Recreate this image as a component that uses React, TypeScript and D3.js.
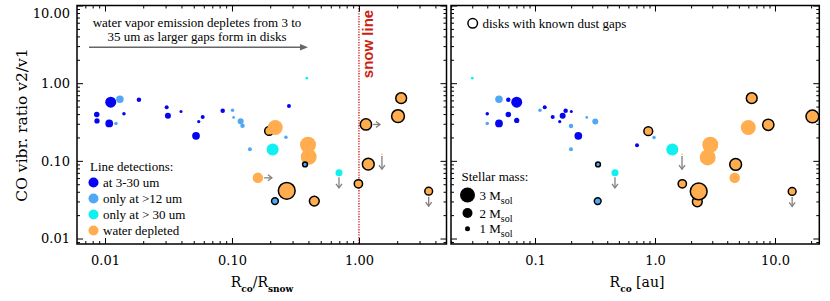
import React, { useRef, useEffect } from "react";
import * as d3 from "d3";

// point rows: [x, y, stellar mass, detection type, known dust gap (1/0), upper-limit arrow]
type Pt = [number, number, number, string, number, string];

// left panel: x = R_co / R_snow
const leftPoints: Pt[] = [
  [0.0131, 0.622, 1.5, "l", 0, ""],
  [0.0111, 0.569, 2.2, "b", 0, ""],
  [0.0185, 0.61, 0.9, "b", 0, ""],
  [0.00861, 0.396, 1.1, "b", 0, ""],
  [0.00865, 0.327, 1.05, "b", 0, ""],
  [0.0108, 0.303, 1.55, "b", 0, ""],
  [0.0122, 0.303, 0.7, "l", 0, ""],
  [0.0141, 0.403, 0.7, "b", 0, ""],
  [0.0306, 0.491, 0.8, "b", 0, ""],
  [0.0313, 0.38, 1.2, "b", 0, ""],
  [0.0397, 0.432, 0.6, "b", 0, ""],
  [0.0521, 0.21, 1.55, "b", 0, ""],
  [0.0547, 0.321, 0.65, "b", 0, ""],
  [0.0588, 0.368, 0.8, "b", 0, ""],
  [0.0845, 0.44, 0.9, "b", 0, ""],
  [0.101, 0.449, 0.7, "l", 0, ""],
  [0.103, 0.362, 0.55, "l", 0, ""],
  [0.117, 0.324, 1.2, "l", 0, ""],
  [0.121, 0.282, 0.9, "l", 0, ""],
  [0.1385, 0.1415, 0.8, "l", 0, ""],
  [0.388, 1.16, 0.55, "c", 0, ""],
  [0.281, 0.51, 0.8, "b", 0, ""],
  [0.196, 0.243, 2.0, "o", 1, ""],
  [0.219, 0.269, 3.0, "o", 0, ""],
  [0.266, 0.202, 0.7, "l", 0, ""],
  [0.209, 0.14, 2.4, "c", 0, ""],
  [0.397, 0.161, 3.2, "o", 0, ""],
  [0.402, 0.1125, 3.2, "o", 0, ""],
  [0.376, 0.0899, 1.2, "l", 1, ""],
  [0.16, 0.0604, 2.1, "o", 0, "right"],
  [0.696, 0.0701, 1.4, "c", 0, "down"],
  [0.99, 0.0506, 1.9, "o", 1, ""],
  [1.184, 0.0907, 2.6, "o", 1, ""],
  [1.517, 0.122, 0.3, "o", 0, "down"],
  [1.135, 0.294, 2.5, "o", 1, "right"],
  [2.03, 0.376, 2.8, "o", 1, ""],
  [2.15, 0.641, 2.4, "o", 1, ""],
  [0.218, 0.0303, 1.6, "l", 1, ""],
  [0.27, 0.0411, 3.6, "o", 1, ""],
  [0.445, 0.0303, 2.2, "o", 1, ""],
  [3.54, 0.0407, 1.8, "o", 1, "down"],
];

// right panel: x = R_co in au
const rightPoints: Pt[] = [
  [0.03, 1.16, 0.55, "c", 0, ""],
  [0.0501, 0.622, 1.5, "l", 0, ""],
  [0.0599, 0.61, 0.9, "b", 0, ""],
  [0.0704, 0.569, 2.2, "b", 0, ""],
  [0.04, 0.403, 0.7, "b", 0, ""],
  [0.04, 0.303, 0.7, "l", 0, ""],
  [0.0501, 0.303, 1.55, "b", 0, ""],
  [0.0599, 0.396, 1.1, "b", 0, ""],
  [0.0704, 0.331, 1.05, "b", 0, ""],
  [0.11, 0.449, 0.7, "l", 0, ""],
  [0.1205, 0.491, 0.8, "b", 0, ""],
  [0.1404, 0.368, 0.8, "b", 0, ""],
  [0.1607, 0.321, 0.65, "b", 0, ""],
  [0.17, 0.38, 1.2, "b", 0, ""],
  [0.18, 0.44, 0.9, "b", 0, ""],
  [0.2007, 0.432, 0.6, "b", 0, ""],
  [0.1995, 0.28, 0.9, "l", 0, ""],
  [0.2296, 0.21, 1.55, "b", 0, ""],
  [0.27, 0.362, 0.55, "l", 0, ""],
  [0.318, 0.321, 1.2, "l", 0, ""],
  [0.1995, 0.1415, 0.8, "l", 0, ""],
  [0.335, 0.0899, 1.2, "l", 1, ""],
  [0.464, 0.0701, 1.4, "c", 0, "down"],
  [0.879, 0.241, 2.0, "o", 1, ""],
  [0.708, 0.159, 0.8, "b", 0, ""],
  [0.981, 0.2, 0.7, "l", 0, ""],
  [1.394, 0.14, 2.4, "c", 0, ""],
  [1.679, 0.122, 0.3, "o", 0, "down"],
  [2.89, 0.161, 3.2, "o", 0, ""],
  [2.749, 0.1106, 3.2, "o", 0, ""],
  [1.689, 0.0506, 1.9, "o", 1, ""],
  [2.252, 0.0297, 2.2, "o", 1, ""],
  [2.313, 0.0404, 3.6, "o", 1, ""],
  [6.4, 0.641, 2.4, "o", 1, ""],
  [5.99, 0.269, 3.0, "o", 0, ""],
  [8.79, 0.291, 2.5, "o", 1, ""],
  [20.5, 0.373, 2.8, "o", 1, ""],
  [4.7, 0.0899, 2.6, "o", 1, ""],
  [4.615, 0.0604, 2.1, "o", 0, ""],
  [13.9, 0.0404, 1.8, "o", 1, "down"],
  [0.333, 0.0303, 1.6, "l", 1, ""],
];

const typeColors: Record<string, string> = {
  b: "#0505f0",
  l: "#50a8f5",
  c: "#10f0f0",
  o: "#ffad4f",
};
const detectionLegend = [
  ["b", "at 3-30 um"],
  ["l", "only at >12 um"],
  ["c", "only at > 30 um"],
  ["o", "water depleted"],
];
const massLegend = [3, 2, 1];

const leftTickLabels = ["0.01", "0.10", "1.00"];
const rightTickLabels = ["0.1", "1.0", "10.0"];
const yTickLabels = ["0.01", "0.10", "1.00", "10.00"];

const annotation = ["water vapor emission depletes from 3 to", "35 um as larger gaps form in disks"];

const SERIF = "'DejaVu Serif', serif";
const TIMES = "'Liberation Serif', 'Times New Roman', serif";

const majors = (dom: number[]) => {
  const out: number[] = [];
  for (let p = Math.floor(Math.log10(dom[0])); p <= Math.ceil(Math.log10(dom[1])); p++) {
    const v = Math.pow(10, p);
    if (v >= dom[0] && v <= dom[1]) out.push(v);
  }
  return out;
};
const minors = (dom: number[]) => {
  const out: number[] = [];
  for (let p = Math.floor(Math.log10(dom[0])); p <= Math.ceil(Math.log10(dom[1])); p++) {
    for (let k = 2; k <= 9; k++) {
      const v = k * Math.pow(10, p);
      if (v >= dom[0] && v <= dom[1]) out.push(v);
    }
  }
  return out;
};

const App = () => {
  const ref = useRef<SVGSVGElement>(null);

  useEffect(() => {
    const svg = d3.select(ref.current);
    svg.selectAll("*").remove();

    const yDom = [0.0085, 10];
    const y = d3.scaleLog().domain(yDom).range([244, 5.5]);
    const r = d3.scaleLinear().domain([0, 3]).range([0, 7.5]);

    const panels = [
      { x0: 77, x1: 446.5, dom: [0.00602, 4.89], labels: leftTickLabels, points: leftPoints, left: true },
      { x0: 451, x1: 819.3, dom: [0.01995, 23.4], labels: rightTickLabels, points: rightPoints, left: false },
    ];

    const fixText = (g: any) => {
      g.select(".domain").remove();
      g.selectAll("text").attr("font-family", SERIF).attr("font-size", 13).attr("fill", "#000");
      g.attr("font-family", SERIF);
    };

    panels.forEach(p => {
      const x = d3.scaleLog().domain(p.dom).range([p.x0, p.x1]);
      const g = svg.append("g");

      if (p.left) {
        g.append("line")
          .attr("x1", x(1)).attr("x2", x(1))
          .attr("y1", y.range()[1]).attr("y2", y.range()[0])
          .attr("stroke", "#cc0000").attr("stroke-width", 1.2)
          .attr("stroke-dasharray", "1.3,1.3");
      }

      // axes
      const mj = majors(p.dom);
      g.append("g").attr("transform", `translate(0,244)`)
        .call(d3.axisBottom(x).tickValues(mj).tickSize(-6).tickPadding(12).tickFormat((_, i) => p.labels[i]))
        .call(fixText);
      g.append("g").attr("transform", `translate(0,244)`)
        .call(d3.axisBottom(x).tickValues(minors(p.dom)).tickSize(-3).tickFormat(() => ""))
        .call(fixText);
      g.append("g").attr("transform", `translate(0,5.5)`)
        .call(d3.axisTop(x).tickValues(mj).tickSize(-6).tickFormat(() => ""))
        .call(fixText);
      g.append("g").attr("transform", `translate(0,5.5)`)
        .call(d3.axisTop(x).tickValues(minors(p.dom)).tickSize(-3).tickFormat(() => ""))
        .call(fixText);

      const ymj = majors(yDom);
      const yl = g.append("g").attr("transform", `translate(${p.x0},0)`)
        .call(d3.axisLeft(y).tickValues(ymj).tickSize(-6).tickPadding(7)
          .tickFormat((_, i) => (p.left ? yTickLabels[i] : "")))
        .call(fixText);
      // top label sits a little below its tick so it stays inside the page
      yl.selectAll("text").filter((d: any) => d === 10).attr("dy", "0.95em");
      g.append("g").attr("transform", `translate(${p.x0},0)`)
        .call(d3.axisLeft(y).tickValues(minors(yDom)).tickSize(-3).tickFormat(() => ""))
        .call(fixText);
      g.append("g").attr("transform", `translate(${p.x1},0)`)
        .call(d3.axisRight(y).tickValues(ymj).tickSize(-6).tickFormat(() => ""))
        .call(fixText);
      g.append("g").attr("transform", `translate(${p.x1},0)`)
        .call(d3.axisRight(y).tickValues(minors(yDom)).tickSize(-3).tickFormat(() => ""))
        .call(fixText);

      g.append("rect")
        .attr("x", p.x0).attr("y", 5.5)
        .attr("width", p.x1 - p.x0).attr("height", 244 - 5.5)
        .attr("fill", "none").attr("stroke", "#000").attr("stroke-width", 1.5);

      // upper / lower limit arrows
      p.points.filter(d => d[5]).forEach(d => {
        const cx = x(d[0]), cy = y(d[1]);
        const a = g.append("g").attr("stroke", "#808080").attr("stroke-width", 1.3).attr("fill", "none");
        if (d[5] === "down") {
          a.append("line").attr("x1", cx).attr("x2", cx).attr("y1", cy + r(d[2]) + 1).attr("y2", cy + 15);
          a.append("polyline").attr("points", `${cx - 3},${cy + 11} ${cx},${cy + 15} ${cx + 3},${cy + 11}`);
        } else {
          a.append("line").attr("x1", cx + r(d[2]) + 1).attr("x2", cx + 14).attr("y1", cy).attr("y2", cy);
          a.append("polyline").attr("points", `${cx + 10},${cy - 3} ${cx + 14},${cy} ${cx + 10},${cy + 3}`);
        }
      });

      g.append("g").selectAll("circle").data(p.points).join("circle")
        .attr("cx", d => x(d[0]))
        .attr("cy", d => y(d[1]))
        .attr("r", d => (d[4] ? r(d[2]) - 0.6 : r(d[2])))
        .attr("fill", d => typeColors[d[3]])
        .attr("stroke", d => (d[4] ? "#000" : "none"))
        .attr("stroke-width", 1.5);
    });

    // left panel annotation
    const ann = svg.append("g").attr("font-family", TIMES).attr("font-size", 13).attr("text-anchor", "middle");
    annotation.forEach((t, i) => {
      ann.append("text").attr("x", 197).attr("y", 27 + i * 13.5).text(t);
    });
    svg.append("line").attr("x1", 89).attr("x2", 301).attr("y1", 47.3).attr("y2", 47.3)
      .attr("stroke", "#666").attr("stroke-width", 1.5);
    svg.append("path").attr("d", "M308,47.3 L300,44 L300,50.6 Z").attr("fill", "#666");

    svg.append("text")
      .attr("transform", "translate(373,44) rotate(-90)")
      .attr("text-anchor", "middle")
      .attr("font-family", "'Liberation Sans', Arial, sans-serif")
      .attr("font-weight", "bold").attr("font-size", 15)
      .attr("fill", "#cc2211")
      .text("snow line");

    // detection legend
    const lg = svg.append("g").attr("font-family", TIMES).attr("font-size", 13);
    lg.append("text").attr("x", 90).attr("y", 170.5).text("Line detections:");
    detectionLegend.forEach(([t, label], i) => {
      const cy = 182.5 + i * 16;
      lg.append("circle").attr("cx", 93.5).attr("cy", cy).attr("r", 5).attr("fill", typeColors[t]);
      lg.append("text").attr("x", 103).attr("y", cy + 4.5).text(label);
    });

    // gap legend + mass legend
    const rg = svg.append("g").attr("font-family", TIMES).attr("font-size", 13);
    rg.append("circle").attr("cx", 472.7).attr("cy", 23.3).attr("r", 4.8)
      .attr("fill", "none").attr("stroke", "#000").attr("stroke-width", 1.5);
    rg.append("text").attr("x", 482.5).attr("y", 27.5).text("disks with known dust gaps");

    rg.append("text").attr("x", 461.5).attr("y", 181).text("Stellar mass:");
    const massY = [195, 213, 228.7];
    massLegend.forEach((m, i) => {
      rg.append("circle").attr("cx", 467.5).attr("cy", massY[i]).attr("r", r(m)).attr("fill", "#000");
      const t = rg.append("text").attr("x", 479.5).attr("y", massY[i] + 4.5);
      t.append("tspan").text(`${m} M`);
      t.append("tspan").attr("dy", 4).attr("font-size", 10).text("sol");
    });

    // axis titles
    svg.append("text")
      .attr("transform", "translate(27,125) rotate(-90)")
      .attr("text-anchor", "middle")
      .attr("font-family", SERIF).attr("font-size", 15.5)
      .text("CO vibr. ratio v2/v1");

    const xt1 = svg.append("text").attr("x", 262).attr("y", 287).attr("text-anchor", "middle")
      .attr("font-family", SERIF).attr("font-size", 14);
    xt1.append("tspan").text("R");
    xt1.append("tspan").attr("dy", 5).attr("font-size", 9).attr("font-weight", "bold").text("co");
    xt1.append("tspan").attr("dy", -5).text("/R");
    xt1.append("tspan").attr("dy", 5).attr("font-size", 9).attr("font-weight", "bold").text("snow");

    const xt2 = svg.append("text").attr("x", 637).attr("y", 287).attr("text-anchor", "middle")
      .attr("font-family", SERIF).attr("font-size", 14);
    xt2.append("tspan").text("R");
    xt2.append("tspan").attr("dy", 5).attr("font-size", 9).attr("font-weight", "bold").text("co");
    xt2.append("tspan").attr("dy", -5).text(" [au]");
  }, []);

  return (
    <svg ref={ref} width={830} height={301}
      style={{ position: "absolute", left: 0, top: 0, background: "#fff" }} />
  );
};

export default App;
